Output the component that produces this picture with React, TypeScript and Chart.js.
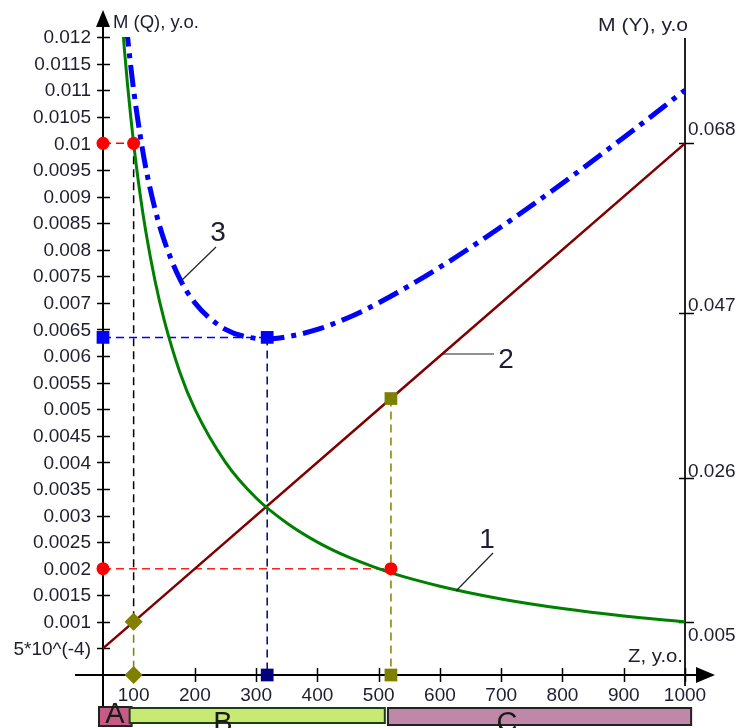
import React, { useEffect, useRef } from 'react';
import { Chart, registerables } from 'chart.js';

Chart.register(...registerables);

// ---------- data ----------
// Curve 1: M(Q) vs Z (left axis)
const zCurve1 = [83, 85, 90, 95, 100, 110, 120, 135, 150, 175, 200, 250, 300, 350, 400, 450, 500, 520, 600, 700, 800, 900, 1000];
const mqCurve1 = [0.01205, 0.01176, 0.01111, 0.01053, 0.0100, 0.00909, 0.00833, 0.00741, 0.00667, 0.00571, 0.0050, 0.0040, 0.00333, 0.00286, 0.0025, 0.00222, 0.0020, 0.00192, 0.00167, 0.00143, 0.00125, 0.00111, 0.0010];

// Curve 3: M(Q) vs Z (left axis), dash-dot blue
const zCurve3 = [88, 90, 95, 100, 110, 120, 135, 150, 175, 200, 250, 300, 318, 350, 400, 450, 500, 600, 700, 800, 900, 1000];
const mqCurve3 = [0.01224, 0.01201, 0.01148, 0.0110, 0.0102, 0.00953, 0.00876, 0.00817, 0.00746, 0.0070, 0.0065, 0.00633, 0.00632, 0.00636, 0.0065, 0.00672, 0.0070, 0.00767, 0.00843, 0.00925, 0.01011, 0.0110];

// Line 2: M(Y) vs Z (right axis)
const zLine2 = [50, 100, 520, 1000];
const myLine2 = [0.0015, 0.005, 0.0344, 0.068];

// Axis ticks
const xTickValues = [100, 200, 300, 400, 500, 600, 700, 800, 900, 1000];
const xTickLabels = ['100', '200', '300', '400', '500', '600', '700', '800', '900', '1000'];
const yLeftTickValues = [0.0005, 0.001, 0.0015, 0.002, 0.0025, 0.003, 0.0035, 0.004, 0.0045, 0.005, 0.0055, 0.006, 0.0065, 0.007, 0.0075, 0.008, 0.0085, 0.009, 0.0095, 0.01, 0.0105, 0.011, 0.0115, 0.012];
const yLeftTickLabels = ['5*10^(-4)', '0.001', '0.0015', '0.002', '0.0025', '0.003', '0.0035', '0.004', '0.0045', '0.005', '0.0055', '0.006', '0.0065', '0.007', '0.0075', '0.008', '0.0085', '0.009', '0.0095', '0.01', '0.0105', '0.011', '0.0115', '0.012'];
const yRightTickValues = [0.005, 0.024, 0.0456, 0.068];
const yRightTickLabels = ['0.005', '0.026', '0.047', '0.068'];

// Reference points
const zAxisStart = 50;
const zMarkA = 100;
const zMarkOpt = 318;
const zMarkB = 520;
const mqLevelA = 0.01;
const mqLevelB = 0.002;
const mqLevelOpt = 0.00635;
const myAtA = 0.005;
const myAtB = 0.0344;

// Range labels under the axis
const rangeLabels = ['A', 'B', 'C'];
const rangeStarts = [50, 100, 520];
const rangeEnds = [100, 510, 1010];

const FONT = '"Liberation Sans", Arial, sans-serif';
const TXT = '#1e1e30';

function drawText(ctx: CanvasRenderingContext2D, s: string, x: number, y: number, size: number, color: string, align: CanvasTextAlign = 'left', baseline: CanvasTextBaseline = 'middle', width?: number) {
  ctx.save();
  ctx.font = `${size}px ${FONT}`;
  ctx.fillStyle = color;
  ctx.textAlign = align;
  ctx.textBaseline = baseline;
  if (width) {
    const w = ctx.measureText(s).width;
    ctx.translate(x, y);
    ctx.scale(width / w, 1);
    ctx.fillText(s, 0, 0);
  } else {
    ctx.fillText(s, x, y);
  }
  ctx.restore();
}

function seg(ctx: CanvasRenderingContext2D, x1: number, y1: number, x2: number, y2: number) {
  ctx.beginPath();
  ctx.moveTo(x1, y1);
  ctx.lineTo(x2, y2);
  ctx.stroke();
}

const overlayPlugin = {
  id: 'overlay',
  beforeDatasetsDraw(chart: any) {
    const { ctx, chartArea: a, scales } = chart;
    const xs = scales.x, ys = scales.y, ys2 = scales.y2;
    const xAxisPx = xs.getPixelForValue(zAxisStart);
    const y0 = ys.getPixelForValue(0);
    ctx.save();
    ctx.strokeStyle = '#000';
    ctx.lineWidth = 2;
    // left axis
    seg(ctx, xAxisPx, 22, xAxisPx, 708);
    ctx.fillStyle = '#000';
    ctx.beginPath();
    ctx.moveTo(xAxisPx, 10);
    ctx.lineTo(xAxisPx - 7, 27);
    ctx.lineTo(xAxisPx + 7, 27);
    ctx.closePath();
    ctx.fill();
    // x axis
    seg(ctx, 75, y0, 700, y0);
    ctx.beginPath();
    ctx.moveTo(715, y0);
    ctx.lineTo(696, y0 - 8);
    ctx.lineTo(696, y0 + 8);
    ctx.closePath();
    ctx.fill();
    // right axis
    ctx.strokeStyle = '#222';
    seg(ctx, a.right, 38, a.right, 686);
    // ticks
    ctx.lineWidth = 1.5;
    ctx.strokeStyle = '#000';
    yLeftTickValues.forEach((v) => {
      const p = Math.round(ys.getPixelForValue(v)) + 0.5;
      seg(ctx, xAxisPx - 6, p, xAxisPx + 7, p);
    });
    xTickValues.forEach((v) => {
      const p = Math.round(xs.getPixelForValue(v)) + 0.5;
      seg(ctx, p, y0 - 7, p, y0 + 7);
    });
    yRightTickValues.forEach((v) => {
      const p = Math.round(ys2.getPixelForValue(v)) + 0.5;
      seg(ctx, a.right - 6, p, a.right + 9, p);
    });
    ctx.restore();
  },
  afterDraw(chart: any) {
    const { ctx, chartArea: a, scales } = chart;
    const xs = scales.x, ys = scales.y, ys2 = scales.y2;
    const xAxisPx = xs.getPixelForValue(zAxisStart);
    // tick labels
    yLeftTickValues.forEach((v, i) => {
      drawText(ctx, yLeftTickLabels[i], xAxisPx - 12, ys.getPixelForValue(v) + 1, 19, TXT, 'right');
    });
    xTickValues.forEach((v, i) => {
      drawText(ctx, xTickLabels[i], xs.getPixelForValue(v), 696, 19, TXT, 'center');
    });
    const rightDy = [14, -6, -8, -14];
    yRightTickValues.forEach((v, i) => {
      drawText(ctx, yRightTickLabels[i], a.right + 3, ys2.getPixelForValue(v) + rightDy[i], 19, TXT, 'left');
    });
    // axis titles
    drawText(ctx, 'M (Q), y.o.', 113, 28, 18, TXT, 'left', 'alphabetic', 86);
    drawText(ctx, 'M (Y), y.o', 598, 31, 18, TXT, 'left', 'alphabetic', 90);
    drawText(ctx, 'Z, y.o.', 628, 662, 18, TXT, 'left', 'alphabetic', 55);

    // curve labels with leaders
    ctx.save();
    ctx.strokeStyle = '#222';
    ctx.lineWidth = 1.2;
    seg(ctx, 216, 247, 181, 281);
    seg(ctx, 443, 354, 494, 354);
    seg(ctx, 493, 553, 456, 591);
    ctx.restore();
    drawText(ctx, '3', 218, 233, 28, TXT, 'center');
    drawText(ctx, '2', 506, 360, 28, TXT, 'center');
    drawText(ctx, '1', 487, 540, 28, TXT, 'center');

    // range boxes
    const fills = ['#c65c86', '#c9ea72', '#bf88a8'];
    const tops = [707, 708, 708];
    const bottoms = [726, 723, 725];
    rangeLabels.forEach((lab, i) => {
      const x1 = Math.max(xs.getPixelForValue(rangeStarts[i]) - 4, 99);
      const x2 = xs.getPixelForValue(rangeEnds[i]) + (i === 0 ? -2 : 0);
      const xl = i === 2 ? x1 + 1 : x1;
      ctx.save();
      ctx.fillStyle = fills[i];
      ctx.fillRect(xl, tops[i], x2 - xl, bottoms[i] - tops[i]);
      ctx.strokeStyle = i === 1 ? '#1d3d12' : '#222';
      ctx.lineWidth = 2;
      ctx.strokeRect(xl, tops[i], x2 - xl, bottoms[i] - tops[i]);
      ctx.restore();
      const cx = i === 0 ? 115 : i === 1 ? 223 : 507;
      const by = i === 0 ? 723 : 732;
      drawText(ctx, lab, cx, by, 29, '#1a1a1a', 'center', 'alphabetic');
    });
  },
};

function pts(xs: number[], ys: number[]) {
  return xs.map((x, i) => ({ x, y: ys[i] }));
}

export default function App() {
  const ref = useRef<HTMLCanvasElement | null>(null);
  useEffect(() => {
    if (!ref.current) return;
    const dashed = (data: { x: number; y: number }[], color: string, axis = 'y') => ({
      type: 'line' as const,
      data,
      yAxisID: axis,
      borderColor: color,
      borderWidth: 1.5,
      borderDash: [8, 5],
      pointRadius: 0,
      tension: 0,
      fill: false,
      order: 3,
      clip: false as any,
    });
    const marks = (data: { x: number; y: number }[], color: string, style: string, radius: number, axis = 'y') => ({
      type: 'scatter' as const,
      data,
      yAxisID: axis,
      showLine: false,
      pointStyle: style,
      pointRadius: radius,
      pointBackgroundColor: color,
      pointBorderColor: color,
      pointBorderWidth: 0,
      order: 0,
      clip: false as any,
    });
    const chart = new Chart(ref.current, {
      type: 'line',
      data: {
        datasets: [
          // reference dashed lines
          dashed([{ x: zAxisStart, y: mqLevelA }, { x: zMarkA, y: mqLevelA }], '#ff0000'),
          dashed([{ x: zAxisStart, y: mqLevelB }, { x: zMarkB, y: mqLevelB }], '#ff2020'),
          dashed([{ x: zAxisStart, y: mqLevelOpt }, { x: zMarkOpt, y: mqLevelOpt }], '#0000ff'),
          dashed([{ x: zMarkOpt, y: mqLevelOpt }, { x: zMarkOpt, y: 0 }], '#000080'),
          dashed([{ x: zMarkA, y: mqLevelA }, { x: zMarkA, y: 0.001 }], '#000000'),
          dashed([{ x: zMarkA, y: myAtA }, { x: zMarkA, y: -0.002 }], '#808000', 'y2'),
          dashed([{ x: zMarkB, y: myAtB }, { x: zMarkB, y: -0.002 }], '#808000', 'y2'),
          // main curves
          {
            type: 'line',
            data: pts(zCurve1, mqCurve1),
            yAxisID: 'y',
            borderColor: '#008000',
            borderWidth: 3,
            pointRadius: 0,
            cubicInterpolationMode: 'monotone',
            fill: false,
            order: 2,
          },
          {
            type: 'line',
            data: pts(zLine2, myLine2),
            yAxisID: 'y2',
            borderColor: '#800000',
            borderWidth: 2.5,
            pointRadius: 0,
            tension: 0,
            fill: false,
            order: 2,
          },
          {
            type: 'line',
            data: pts(zCurve3, mqCurve3),
            yAxisID: 'y',
            borderColor: '#0000ff',
            borderWidth: 5,
            borderDash: [22, 7, 5, 7],
            borderCapStyle: 'butt',
            pointRadius: 0,
            cubicInterpolationMode: 'monotone',
            fill: false,
            order: 1,
          },
          // markers
          marks([{ x: zAxisStart, y: mqLevelA }, { x: zMarkA, y: mqLevelA }, { x: zAxisStart, y: mqLevelB }, { x: zMarkB, y: mqLevelB }], '#ff0000', 'circle', 6.5),
          marks([{ x: zAxisStart, y: mqLevelOpt }, { x: zMarkOpt, y: mqLevelOpt }], '#0000ff', 'rect', 9),
          marks([{ x: zMarkOpt, y: 0 }], '#000080', 'rect', 9),
          marks([{ x: zMarkA, y: myAtA }], '#808000', 'rectRot', 9, 'y2'),
          marks([{ x: zMarkA, y: 0 }], '#808000', 'rectRot', 9),
          marks([{ x: zMarkB, y: myAtB }], '#808000', 'rect', 9, 'y2'),
          marks([{ x: zMarkB, y: 0 }], '#808000', 'rect', 9),
        ] as any,
      },
      options: {
        responsive: false,
        animation: false,
        devicePixelRatio: 1,
        layout: { padding: { left: 103, right: 55, top: 37, bottom: 53 } },
        plugins: { legend: { display: false }, tooltip: { enabled: false } },
        scales: {
          x: { type: 'linear', min: 50, max: 1000, display: false },
          y: { type: 'linear', min: 0, max: 0.012, display: false },
          y2: { type: 'linear', min: -0.002, max: 0.082, display: false, position: 'right' },
        },
      } as any,
      plugins: [overlayPlugin],
    });
    return () => chart.destroy();
  }, []);
  return (
    <div style={{ position: 'fixed', left: 0, top: 0, width: 740, height: 728, background: '#fff' }}>
      <canvas ref={ref} width={740} height={728} style={{ display: 'block', width: 740, height: 728 }} />
    </div>
  );
}
